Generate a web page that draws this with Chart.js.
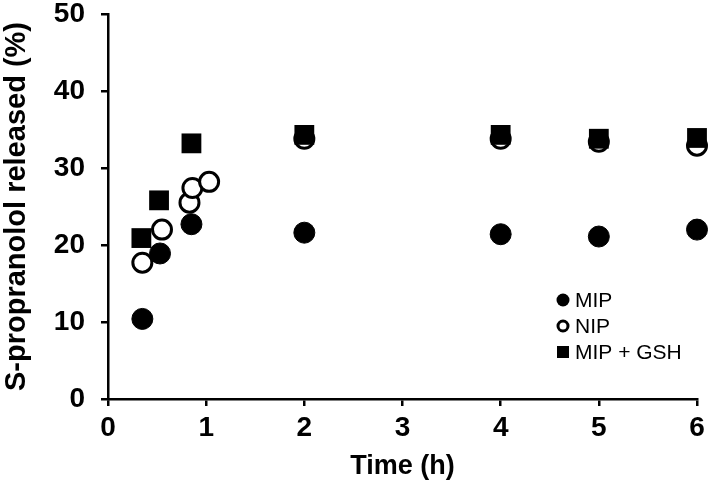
<!DOCTYPE html>
<html>
<head>
<meta charset="utf-8">
<script src="https://cdn.jsdelivr.net/npm/chart.js@4"></script>
<style>
  html, body { margin: 0; padding: 0; background: #fff; }
  #wrap { width: 711px; height: 497px; }
</style>
</head>
<body>
<div id="wrap"><canvas id="c" width="711" height="497"></canvas></div>
<script>
// Data
const mipTime = [0.35, 0.53, 0.85, 2, 4, 5, 6];
const mipRelease = [10.4, 18.9, 22.7, 21.6, 21.4, 21.1, 22.0];

const nipTime = [0.35, 0.55, 0.83, 0.86, 1.03, 2, 4, 5, 6];
const nipRelease = [17.7, 22.0, 25.5, 27.4, 28.2, 33.8, 33.8, 33.4, 32.9];

const gshTime = [0.34, 0.52, 0.85, 2, 4, 5, 6];
const gshRelease = [20.9, 25.8, 33.2, 34.3, 34.3, 33.8, 33.9];

const seriesNames = ['MIP', 'NIP', 'MIP + GSH'];
const xTicks = [0, 1, 2, 3, 4, 5, 6];
const yTicks = [0, 10, 20, 30, 40, 50];

const toPoints = (xs, ys) => xs.map((x, i) => ({ x: x, y: ys[i] }));

const FONT = "'Liberation Sans', Arial, sans-serif";

const legendPlugin = {
  id: 'insideLegend',
  afterDatasetsDraw(chart) {
    const ctx = chart.ctx;
    const area = chart.chartArea;
    const mx = area.right - 134;
    const tx = mx + 12;
    const rows = [area.bottom - 99, area.bottom - 73, area.bottom - 47];
    ctx.save();
    ctx.font = "21px " + FONT;
    ctx.fillStyle = '#000';
    ctx.textBaseline = 'middle';
    chart.data.datasets.forEach((ds, i) => {
      const y = rows[i];
      ctx.beginPath();
      if (i === 0) {
        ctx.arc(mx, y, 6.5, 0, Math.PI * 2);
        ctx.fillStyle = '#000';
        ctx.fill();
      } else if (i === 1) {
        ctx.arc(mx, y, 5, 0, Math.PI * 2);
        ctx.fillStyle = '#fff';
        ctx.fill();
        ctx.lineWidth = 3;
        ctx.strokeStyle = '#000';
        ctx.stroke();
      } else {
        ctx.fillStyle = '#000';
        ctx.fillRect(mx - 6, y - 6, 12, 12);
      }
      ctx.fillStyle = '#000';
      ctx.textAlign = 'left';
      ctx.fillText(ds.label, tx, y + 1);
    });
    ctx.restore();
  }
};

new Chart(document.getElementById('c'), {
  type: 'scatter',
  data: {
    datasets: [
      {
        label: seriesNames[0],
        data: toPoints(mipTime, mipRelease),
        pointStyle: 'circle',
        pointRadius: 10.5,
        pointHoverRadius: 10.5,
        backgroundColor: '#000',
        borderColor: '#000',
        borderWidth: 1,
        clip: false,
        order: 3
      },
      {
        label: seriesNames[1],
        data: toPoints(nipTime, nipRelease),
        pointStyle: 'circle',
        pointRadius: 9.5,
        pointHoverRadius: 9.5,
        backgroundColor: '#fff',
        borderColor: '#000',
        borderWidth: 3,
        clip: false,
        order: 2
      },
      {
        label: seriesNames[2],
        data: toPoints(gshTime, gshRelease),
        pointStyle: 'rect',
        pointRadius: 14,
        pointHoverRadius: 14,
        backgroundColor: '#000',
        borderColor: '#000',
        borderWidth: 0,
        clip: false,
        order: 1
      }
    ]
  },
  options: {
    responsive: false,
    animation: false,
    events: [],
    layout: { padding: { left: 0, right: 14, top: 13, bottom: 0 } },
    plugins: {
      legend: { display: false },
      tooltip: { enabled: false }
    },
    scales: {
      x: {
        type: 'linear',
        min: 0,
        max: 6,
        afterBuildTicks: (s) => { s.ticks = xTicks.map(v => ({ value: v })); },
        afterFit: (s) => { s.height = 98; s.paddingLeft = 0; s.paddingRight = 0; },
        border: { display: true, color: '#000', width: 2.5 },
        grid: { display: true, drawOnChartArea: false, drawTicks: true, tickLength: 7, color: '#000', lineWidth: 2.5 },
        ticks: { color: '#000', font: { family: FONT, size: 28, weight: 'bold' }, padding: 5, maxRotation: 0 },
        title: { display: true, text: 'Time (h)', color: '#000', font: { family: FONT, size: 27, weight: 'bold' }, padding: { top: 0, bottom: 14 } }
      },
      y: {
        type: 'linear',
        min: 0,
        max: 50,
        afterBuildTicks: (s) => { s.ticks = yTicks.map(v => ({ value: v })); },
        afterFit: (s) => { s.width = 108; s.paddingTop = 0; s.paddingBottom = 0; },
        border: { display: true, color: '#000', width: 2.5 },
        grid: { display: true, drawOnChartArea: false, drawTicks: true, tickLength: 7, color: '#000', lineWidth: 2.5 },
        ticks: { color: '#000', font: { family: FONT, size: 28, weight: 'bold' }, padding: 16 },
        title: { display: true, text: 'S-propranolol released (%)', color: '#000', font: { family: FONT, size: 29, weight: 'bold' }, padding: { top: 0, bottom: 0 } }
      }
    }
  },
  plugins: [legendPlugin]
});
</script>
</body>
</html>
